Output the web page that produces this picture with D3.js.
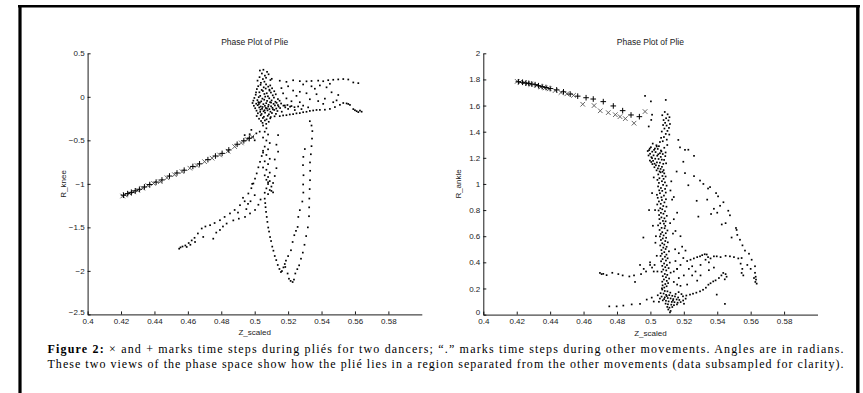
<!DOCTYPE html>
<html>
<head>
<meta charset="utf-8">
<script src="https://cdn.jsdelivr.net/npm/d3@7"></script>
<style>
  html, body { margin: 0; padding: 0; background: #fff; }
  svg { display: block; }
</style>
</head>
<body>
<svg id="fig" width="863" height="393"></svg>
<script>
// ---- tick values -------------------------------------------------------
const zTicks = [0.4, 0.42, 0.44, 0.46, 0.48, 0.5, 0.52, 0.54, 0.56, 0.58];
const kneeTicks = [0.5, 0, -0.5, -1, -1.5, -2, -2.5];
const ankleTicks = [0, 0.2, 0.4, 0.6, 0.8, 1, 1.2, 1.4, 1.6, 1.8, 2];

const panelTitle = "Phase Plot of Plie";
const xLabel = "Z_scaled";
const kneeLabel = "R_knee";
const ankleLabel = "R_ankle";

// ---- knee view: [Z_scaled, R_knee] -------------------------------------
// plié time steps, dancer 1 (x)
const kneePlieCross = [
  [0.4210,-1.140],[0.4225,-1.128],[0.4250,-1.110],[0.4275,-1.092],[0.4300,-1.075],
  [0.4330,-1.050],[0.4360,-1.020],[0.4395,-0.995],[0.4435,-0.975],[0.4475,-0.930],
  [0.4520,-0.895],[0.4565,-0.860],[0.4612,-0.820],[0.4655,-0.790],[0.4700,-0.745],
  [0.4745,-0.705],[0.4790,-0.668],[0.4840,-0.625],[0.4880,-0.572],[0.4920,-0.530],
  [0.4955,-0.490],[0.4985,-0.460]
];
// plié time steps, dancer 2 (+)
const kneePliePlus = [
  [0.4215,-1.130],[0.4240,-1.112],[0.4262,-1.098],[0.4285,-1.080],[0.4310,-1.062],
  [0.4340,-1.035],[0.4372,-1.008],[0.4410,-0.980],[0.4445,-0.955],[0.4490,-0.910],
  [0.4535,-0.875],[0.4578,-0.843],[0.4630,-0.800],[0.4670,-0.770],[0.4720,-0.722],
  [0.4765,-0.680],[0.4805,-0.650],[0.4845,-0.610],[0.4895,-0.545],[0.4935,-0.505],
  [0.4968,-0.475]
];
// other movements (.)
const kneeOther = [
  // upper spike
  [0.5031,0.302],[0.5052,0.311],[0.5074,0.287],[0.5043,0.268],[0.5061,0.243],[0.5083,0.259],
  [0.5029,0.226],[0.5049,0.204],[0.5068,0.219],[0.5094,0.193],[0.5017,0.186],[0.5058,0.174],[0.5102,0.207],
  // dense core
  [0.5037,0.161],[0.5068,0.143],[0.5093,0.131],[0.5021,0.122],[0.5054,0.109],[0.5081,0.117],[0.5104,0.098],
  [0.5013,0.089],[0.5042,0.079],[0.5066,0.095],[0.5089,0.071],[0.5117,0.064],[0.5028,0.052],[0.5049,0.067],
  [0.5072,0.041],[0.5097,0.049],[0.5126,0.029],[0.5006,0.024],[0.5033,0.011],[0.5058,0.033],[0.5079,0.006],
  [0.5108,0.017],[0.4998,-0.013],[0.5024,-0.004],[0.5046,-0.021],[0.5063,0.002],[0.5087,-0.017],[0.5115,-0.009],
  [0.5139,-0.026],[0.4992,-0.044],[0.5016,-0.038],[0.5039,-0.052],[0.5057,-0.033],[0.5074,-0.047],[0.5101,-0.041],
  [0.5124,-0.057],[0.5149,-0.045],[0.4987,-0.071],[0.5009,-0.079],[0.5031,-0.066],[0.5052,-0.084],[0.5069,-0.073],
  [0.5092,-0.062],[0.5113,-0.081],[0.5131,-0.069],[0.5158,-0.077],[0.4995,-0.103],[0.5018,-0.096],[0.5036,-0.111],
  [0.5061,-0.104],[0.5083,-0.092],[0.5098,-0.109],[0.5121,-0.099],[0.5143,-0.112],[0.5172,-0.101],[0.5196,-0.094],
  [0.5003,-0.131],[0.5027,-0.122],[0.5044,-0.138],[0.5066,-0.128],[0.5088,-0.141],[0.5106,-0.126],[0.5129,-0.135],
  [0.5152,-0.129],[0.5183,-0.121],[0.5212,-0.113],[0.5238,-0.119],[0.5011,-0.159],[0.5034,-0.148],[0.5053,-0.166],
  [0.5077,-0.156],[0.5094,-0.171],[0.5117,-0.151],[0.5136,-0.163],[0.5162,-0.171],[0.5019,-0.189],[0.5041,-0.197],
  [0.5062,-0.182],[0.5085,-0.201],[0.5103,-0.186],[0.5127,-0.196],[0.5012,-0.221],[0.5036,-0.212],[0.5055,-0.229],
  [0.5078,-0.218],[0.5096,-0.233],[0.5119,-0.224],[0.5026,-0.252],[0.5049,-0.243],[0.5071,-0.259],[0.5093,-0.247],
  [0.5038,-0.278],[0.5061,-0.271],[0.5084,-0.287],[0.5047,-0.299],[0.5069,-0.311],
  [0.5025,-0.083],[0.5047,-0.117],[0.5073,-0.134],[0.5109,-0.144],[0.5081,-0.112],[0.5022,-0.061],[0.5059,-0.154],
  [0.5033,-0.173],[0.5098,-0.066],[0.5139,-0.095],[0.5008,0.051],[0.5088,0.082],[0.5035,0.138],
  // band running right from the core
  [0.515,-0.222],[0.517,-0.214],[0.519,-0.211],[0.521,-0.203],[0.523,-0.199],[0.525,-0.190],[0.527,-0.187],
  [0.529,-0.177],[0.531,-0.172],[0.533,-0.162],[0.535,-0.157],[0.537,-0.151],[0.539,-0.150],
  [0.518,-0.100],[0.522,-0.106],[0.526,-0.111],[0.529,-0.101],[0.532,-0.121],[0.520,-0.139],[0.524,-0.152],[0.528,-0.141],
  [0.542,-0.148],[0.545,-0.139],[0.548,-0.118],[0.551,-0.092],[0.553,-0.071],[0.555,-0.076],[0.556,-0.082],
  [0.557,-0.093],[0.559,-0.141],[0.561,-0.165],[0.563,-0.158],[0.564,-0.171],[0.562,-0.176],[0.560,-0.154],
  // upper row
  [0.515,0.185],[0.519,0.172],[0.523,0.190],[0.527,0.180],[0.531,0.178],[0.534,0.182],[0.538,0.186],
  [0.541,0.179],[0.544,0.191],[0.547,0.196],[0.550,0.200],[0.553,0.204],[0.556,0.199],[0.559,0.165],[0.562,0.157],
  // scatter between rows
  [0.516,0.100],[0.520,0.121],[0.523,0.072],[0.527,0.058],[0.531,0.041],[0.536,0.093],[0.539,0.131],
  [0.543,0.109],[0.546,0.052],[0.550,0.021],[0.529,0.142],[0.525,0.011],[0.533,-0.028],[0.538,-0.049],
  [0.542,-0.021],[0.547,-0.062],[0.519,-0.018],[0.522,-0.051],[0.537,0.030],[0.541,-0.081],[0.549,-0.041],
  [0.517,0.040],[0.527,-0.062],[0.545,0.150],[0.534,0.121],
  // near the end of the plié curve
  [0.494,-0.440],[0.497,-0.430],[0.499,-0.460],[0.501,-0.420],[0.496,-0.480],[0.500,-0.500],[0.503,-0.400],[0.498,-0.380],
  // vertical column under the core
  [0.505,-0.330],[0.507,-0.362],[0.506,-0.401],[0.508,-0.433],[0.505,-0.468],[0.507,-0.502],[0.509,-0.531],
  [0.506,-0.572],[0.508,-0.603],[0.505,-0.641],[0.507,-0.668],[0.509,-0.712],[0.506,-0.741],[0.508,-0.773],
  [0.505,-0.812],[0.507,-0.838],[0.509,-0.871],[0.506,-0.902],[0.508,-0.921],[0.507,-0.953],[0.509,-0.968],
  [0.508,-1.002],[0.510,-1.031],[0.507,-1.052],[0.509,-1.071],[0.506,-1.102],[0.508,-1.118],[0.510,-1.081],
  [0.511,-1.098],[0.508,-0.982],
  [0.514,-0.440],[0.513,-0.550],[0.514,-0.630],[0.512,-0.720],[0.513,-0.820],[0.512,-0.910],[0.511,-0.990],
  // first V, left arm down to its tip
  [0.5060,-1.170],[0.5063,-1.221],[0.5065,-1.268],[0.5068,-1.322],[0.5072,-1.380],[0.5076,-1.437],
  [0.5081,-1.502],[0.5086,-1.548],[0.5092,-1.611],[0.5098,-1.657],[0.5105,-1.721],[0.5112,-1.768],
  [0.5120,-1.829],[0.5129,-1.876],[0.5138,-1.932],[0.5148,-1.978],[0.5157,-2.013],[0.5163,-2.002],
  // first V, right arm climbing back up
  [0.5172,-1.960],[0.5180,-1.921],[0.5187,-1.882],[0.5200,-1.830],[0.5217,-1.763],[0.5227,-1.668],
  [0.5237,-1.590],[0.5247,-1.540],[0.5257,-1.495],[0.5261,-1.380],[0.5270,-1.302],[0.5285,-1.203],
  [0.5291,-1.100],[0.5290,-1.007],[0.5292,-0.901],[0.5289,-0.785],[0.5291,-0.690],[0.5300,-0.600],
  // second, deeper V
  [0.5183,-1.955],[0.5197,-2.030],[0.5205,-2.090],[0.5215,-2.115],[0.5227,-2.128],[0.5235,-2.100],
  [0.5243,-2.030],[0.5255,-1.980],[0.5266,-1.936],[0.5277,-1.860],[0.5288,-1.790],[0.5298,-1.700],
  [0.5308,-1.600],[0.5318,-1.500],[0.5325,-1.372],[0.5326,-1.270],[0.5327,-1.169],[0.5329,-1.060],
  [0.5331,-0.958],[0.5332,-0.850],[0.5331,-0.754],[0.5336,-0.660],[0.5340,-0.567],[0.5343,-0.480],
  [0.5345,-0.394],[0.5340,-0.330],[0.5330,-0.280],
  // lower-left branch
  [0.4548,-1.745],[0.4556,-1.730],[0.4568,-1.720],[0.4585,-1.708],[0.4605,-1.680],[0.4623,-1.650],
  [0.4640,-1.620],[0.4660,-1.570],[0.4683,-1.513],[0.4705,-1.490],[0.4733,-1.475],[0.4760,-1.450],
  [0.4792,-1.418],[0.4820,-1.380],[0.4852,-1.340],[0.4880,-1.300],[0.4912,-1.245],[0.4940,-1.200],
  [0.4962,-1.111],[0.4980,-1.050],[0.4992,-0.996],[0.5002,-0.940],[0.5012,-0.880],[0.5022,-0.810],
  [0.5032,-0.747],[0.5042,-0.680],[0.5050,-0.620],
  [0.4593,-1.725],[0.4615,-1.700],[0.4643,-1.668],[0.4692,-1.610],[0.4752,-1.630],[0.4770,-1.560],
  [0.4792,-1.530],[0.4810,-1.490],[0.4832,-1.456],[0.4872,-1.420],[0.4905,-1.400],[0.4942,-1.380],
  [0.4972,-1.340],[0.5002,-1.300],[0.5022,-1.240],[0.5035,-1.180],[0.4950,-1.290],[0.4900,-1.330],
  [0.4975,-1.200],[0.5000,-1.130],[0.4985,-1.000],[0.4930,-1.160],[0.4960,-1.230]
];

// ---- ankle view: [Z_scaled, R_ankle] -----------------------------------
const anklePlieCross = [
  [0.4203,1.785],[0.4220,1.780],[0.4245,1.775],[0.4265,1.768],[0.4285,1.762],[0.4320,1.755],
  [0.4345,1.742],[0.4370,1.735],[0.4395,1.728],[0.4430,1.715],[0.4465,1.700],[0.4500,1.690],
  [0.4540,1.678],[0.4595,1.610],[0.4663,1.600],[0.4700,1.560],[0.4748,1.546],[0.4790,1.530],
  [0.4818,1.515],[0.4850,1.500],[0.4902,1.465],[0.4968,1.554]
];
const anklePliePlus = [
  [0.4210,1.782],[0.4235,1.778],[0.4255,1.772],[0.4272,1.770],[0.4290,1.765],[0.4310,1.760],
  [0.4330,1.752],[0.4352,1.745],[0.4375,1.738],[0.4400,1.730],[0.4439,1.720],[0.4480,1.705],
  [0.4520,1.688],[0.4565,1.672],[0.4615,1.660],[0.4658,1.650],[0.4718,1.630],[0.4778,1.597],
  [0.4834,1.561],[0.4884,1.528],[0.4934,1.515]
];
const ankleOther = [
  // isolated steps near the plié curve
  [0.4968,1.674],[0.5003,1.632],[0.5092,1.643],[0.4990,1.440],[0.5010,1.530],[0.5005,1.490],
  // top of the column
  [0.5086,1.551],[0.5103,1.533],[0.5071,1.526],[0.5114,1.511],[0.5094,1.503],[0.5079,1.489],
  [0.5108,1.486],[0.5088,1.468],[0.5117,1.459],[0.5076,1.451],[0.5097,1.447],[0.5111,1.429],
  [0.5084,1.424],[0.5102,1.406],[0.5068,1.401],[0.5092,1.383],[0.5113,1.378],[0.5081,1.359],
  [0.5064,1.353],[0.5098,1.339],[0.5074,1.327],[0.5057,1.321],
  // dense knot
  [0.5014,1.309],[0.5036,1.296],[0.5051,1.289],[0.5003,1.281],[0.5027,1.271],[0.5044,1.268],
  [0.5063,1.256],[0.4992,1.259],[0.5011,1.247],[0.5031,1.244],[0.5057,1.235],[0.5074,1.229],
  [0.4998,1.231],[0.5019,1.219],[0.5041,1.216],[0.5062,1.207],[0.5006,1.205],[0.5029,1.193],
  [0.5049,1.191],[0.5068,1.186],[0.4997,1.179],[0.5016,1.177],[0.5039,1.165],[0.5057,1.163],
  [0.5077,1.154],[0.5012,1.152],[0.5033,1.143],[0.5051,1.139],[0.5069,1.131],[0.5024,1.128],
  [0.5045,1.119],[0.5061,1.115],[0.5079,1.106],[0.5037,1.104],[0.5055,1.096],[0.5073,1.093],
  [0.5089,1.213],[0.5094,1.158],[0.5083,1.277],[0.5101,1.298],[0.5091,1.241],[0.4989,1.218],
  [0.4984,1.252],[0.5005,1.168],[0.5022,1.261],[0.5047,1.227],[0.5010,1.197],[0.5066,1.249],
  [0.5025,1.155],[0.5082,1.184],[0.5038,1.287],[0.4996,1.271],
  // long column
  [0.5061,1.089],[0.5083,1.081],[0.5047,1.073],[0.5072,1.061],[0.5091,1.057],[0.5054,1.044],
  [0.5079,1.039],[0.5042,1.031],[0.5069,1.021],[0.5087,1.012],[0.5051,1.008],[0.5076,0.993],
  [0.5097,0.987],[0.5046,0.981],[0.5063,0.969],[0.5088,0.962],[0.5053,0.951],[0.5071,0.947],
  [0.5092,0.934],[0.5057,0.929],[0.5039,0.917],[0.5081,0.911],[0.5066,0.898],[0.5044,0.894],
  [0.5093,0.883],[0.5069,0.877],[0.5051,0.866],[0.5084,0.859],[0.5062,0.848],[0.5041,0.843],
  [0.5077,0.831],[0.5096,0.826],[0.5059,0.814],[0.5071,0.806],[0.5049,0.797],[0.5087,0.791],
  [0.5063,0.779],[0.5078,0.772],[0.5052,0.762],[0.5098,0.756],[0.5066,0.744],[0.5084,0.737],
  [0.5054,0.731],[0.5075,0.717],[0.5091,0.714],[0.5059,0.699],[0.5081,0.696],[0.5046,0.683],
  [0.5089,0.679],[0.5067,0.664],[0.5085,0.661],[0.5055,0.648],[0.5102,0.644],[0.5071,0.631],
  [0.5092,0.623],[0.5062,0.617],[0.5079,0.606],[0.5057,0.598],[0.5094,0.588],[0.5074,0.583],
  [0.5063,0.571],[0.5089,0.563],[0.5104,0.553],[0.5071,0.546],[0.5083,0.536],[0.5059,0.529],
  [0.5097,0.519],[0.5077,0.513],[0.5091,0.502],[0.5066,0.494],[0.5111,0.484],[0.5083,0.478],
  [0.5069,0.467],[0.5096,0.459],[0.5061,0.449],[0.5087,0.443],[0.5103,0.431],[0.5073,0.425],
  [0.5093,0.414],[0.5064,0.408],[0.5116,0.398],[0.5082,0.391],[0.5099,0.379],[0.5071,0.373],
  [0.5089,0.363],[0.5109,0.356],[0.5077,0.345],[0.5095,0.338],[0.5067,0.328],[0.5121,0.321],
  [0.5086,0.311],[0.5101,0.304],[0.5074,0.294],[0.5093,0.286],[0.5112,0.276],[0.5081,0.269],
  [0.5098,0.258],[0.5071,0.252],[0.5106,0.241],[0.5089,0.234],[0.5073,0.224],[0.5097,0.217],
  [0.5083,0.207],[0.5069,0.201],
  [0.5020,1.050],[0.5125,1.020],[0.5010,0.930],[0.5130,0.880],[0.5028,0.800],[0.5140,0.730],
  [0.5015,0.680],[0.5135,0.620],[0.5030,0.550],[0.5148,0.500],[0.5038,0.450],[0.5150,0.410],
  [0.5025,0.380],[0.5160,0.350],[0.5042,0.330],[0.5033,0.600],[0.5120,0.950],[0.5118,0.700],
  // knot at the bottom
  [0.5071,0.192],[0.5086,0.181],[0.5102,0.178],[0.5119,0.168],[0.5061,0.164],[0.5079,0.161],
  [0.5094,0.151],[0.5113,0.149],[0.5131,0.144],[0.5147,0.139],[0.5067,0.138],[0.5086,0.132],
  [0.5104,0.127],[0.5121,0.124],[0.5137,0.119],[0.5157,0.116],[0.5173,0.112],[0.5074,0.109],
  [0.5093,0.106],[0.5109,0.101],[0.5128,0.097],[0.5144,0.095],[0.5163,0.091],[0.5181,0.096],
  [0.5091,0.084],[0.5105,0.079],[0.5125,0.076],[0.5141,0.072],[0.5159,0.078],[0.5101,0.059],
  [0.5114,0.053],[0.5131,0.058],[0.5107,0.039],[0.5121,0.028],[0.5117,0.017],[0.5196,0.108],
  [0.5211,0.122],[0.5201,0.083],[0.5151,0.158],[0.5169,0.172],[0.5186,0.157],[0.5051,0.098],
  [0.5057,0.123],[0.5044,0.148],[0.5098,0.142],[0.5135,0.108],[0.5082,0.119],[0.5166,0.131],
  // lower curve to the right
  [0.5195,0.140],[0.5215,0.146],[0.5237,0.153],[0.5255,0.160],[0.5275,0.168],[0.5297,0.178],
  [0.5315,0.190],[0.5332,0.206],[0.5347,0.229],[0.5360,0.240],[0.5376,0.254],[0.5390,0.262],
  [0.5410,0.280],[0.5425,0.300],[0.5436,0.319],[0.5450,0.310],[0.5456,0.290],[0.5445,0.270],
  // middle loop
  [0.5140,0.330],[0.5160,0.350],[0.5180,0.380],[0.5197,0.433],[0.5220,0.410],[0.5240,0.420],
  [0.5260,0.430],[0.5280,0.440],[0.5297,0.446],[0.5310,0.455],[0.5325,0.462],[0.5337,0.460],
  [0.5345,0.440],[0.5360,0.430],[0.5380,0.446],[0.5397,0.446],[0.5420,0.440],[0.5450,0.450],
  [0.5476,0.446],[0.5500,0.440],[0.5526,0.430],[0.5330,0.420],[0.5350,0.400],[0.5300,0.380],
  [0.5250,0.370],[0.5230,0.350],[0.5270,0.330],[0.5200,0.300],[0.5170,0.280],[0.5250,0.300],
  [0.5300,0.300],[0.5350,0.340],[0.5380,0.360],[0.5280,0.260],[0.5220,0.230],[0.5180,0.220],
  [0.5160,0.230],[0.5140,0.250],
  // long descent on the right
  [0.5167,1.337],[0.5177,1.280],[0.5207,1.261],[0.5227,1.262],[0.5261,1.215],[0.5197,1.170],
  [0.5157,1.095],[0.5207,1.083],[0.5261,1.060],[0.5297,1.026],[0.5317,1.000],[0.5357,0.976],
  [0.5345,0.965],[0.5393,0.930],[0.5405,0.905],[0.5417,0.833],[0.5437,0.860],[0.5466,0.795],
  [0.5476,0.760],[0.5427,0.690],[0.5512,0.663],[0.5516,0.648],[0.5486,0.590],[0.5536,0.573],
  [0.5551,0.530],[0.5566,0.490],[0.5590,0.466],[0.5606,0.420],[0.5626,0.370],[0.5626,0.320],
  [0.5630,0.290],[0.5632,0.268],[0.5636,0.237],[0.5628,0.250],[0.5620,0.280],[0.5546,0.433],
  [0.5546,0.319],[0.5556,0.300],[0.5550,0.350],[0.5540,0.390],[0.5227,0.990],[0.5277,0.871],
  [0.5287,0.750],[0.5363,0.770],[0.5400,0.780],[0.5340,0.880],[0.5380,0.810],[0.5450,0.700],
  [0.5520,0.610],[0.5580,0.380],[0.5600,0.350],
  // row at the left
  [0.4698,0.319],[0.4708,0.310],[0.4718,0.312],[0.4738,0.302],[0.4772,0.320],[0.4808,0.310],
  [0.4834,0.300],[0.4874,0.292],[0.4902,0.300],[0.4908,0.250],[0.4938,0.380],[0.4944,0.310],
  [0.4974,0.330],[0.4998,0.380],[0.4998,0.400],[0.5010,0.360],[0.4960,0.350],[0.5020,0.330],
  // bottom row
  [0.4754,0.063],[0.4798,0.063],[0.4838,0.069],[0.4888,0.078],[0.4938,0.082],[0.4978,0.115],
  [0.5008,0.130],[0.5020,0.100],
  // loose steps
  [0.4992,0.800],[0.4958,0.590],[0.5446,0.082],[0.5397,0.153],[0.5140,0.900],[0.5160,0.780],
  [0.5180,0.600],[0.5190,0.520],[0.5170,0.470],[0.5210,0.490],[0.5150,0.640]
];

const captionLead = "Figure 2:";
const captionRest1 = " \u00d7 and + marks time steps during pli\u00e9s for two dancers; \u201c.\u201d marks time steps during other movements. Angles are in radians.";
const captionLine2 = "These two views of the phase space show how the pli\u00e9 lies in a region separated from the other movements (data subsampled for clarity).";

// ---- drawing -----------------------------------------------------------
const svg = d3.select("#fig");
const sans = "'Liberation Sans', Arial, Helvetica, sans-serif";
const serif = "'Liberation Serif', 'Times New Roman', Times, serif";

// page frame
svg.append("rect").attr("width", 863).attr("height", 393).attr("fill", "#fff");
svg.append("line").attr("x1", 18).attr("x2", 860).attr("y1", 6.2).attr("y2", 6.2)
  .attr("stroke", "#000").attr("stroke-width", 2.6);
svg.append("line").attr("x1", 20).attr("x2", 20).attr("y1", 5).attr("y2", 393)
  .attr("stroke", "#000").attr("stroke-width", 3.2);
svg.append("line").attr("x1", 857.8).attr("x2", 857.8).attr("y1", 5).attr("y2", 393)
  .attr("stroke", "#000").attr("stroke-width", 3.4);

const fmt = d => String(+d.toFixed(2)).replace("-", "\u2212");

function drawPanel(opt) {
  const x = d3.scaleLinear().domain([0.4, 0.6]).range([opt.left, opt.left + 334.2]);
  const y = d3.scaleLinear().domain(opt.yDomain).range([opt.bottom, opt.top]);
  const g = svg.append("g");

  const ax = g.append("g").attr("transform", `translate(0,${opt.bottom})`)
    .call(d3.axisBottom(x).tickValues(zTicks).tickFormat(fmt)
      .tickSizeInner(-3).tickSizeOuter(0).tickPadding(3.5));
  const ay = g.append("g").attr("transform", `translate(${opt.left},0)`)
    .call(d3.axisLeft(y).tickValues(opt.yTicks).tickFormat(fmt)
      .tickSizeInner(-3).tickSizeOuter(0).tickPadding(3));
  [ax, ay].forEach(a => {
    a.select(".domain").attr("stroke", "#000").attr("stroke-width", 0.9);
    a.selectAll(".tick line").attr("stroke", "#000").attr("stroke-width", 0.9);
    a.selectAll(".tick text").attr("fill", "#222")
      .style("font-family", sans).style("font-size", "8px");
  });
  // lowest y label sits just above the first x label at the corner
  ay.selectAll(".tick text").filter(d => d === opt.yDomain[0]).attr("dy", "-0.05em");

  g.append("text").attr("x", (x.range()[0] + x.range()[1]) / 2).attr("y", opt.top - 8)
    .attr("text-anchor", "middle").attr("fill", "#222")
    .style("font-family", sans).style("font-size", "8.5px").text(panelTitle);
  g.append("text").attr("x", (x.range()[0] + x.range()[1]) / 2).attr("y", opt.bottom + 21)
    .attr("text-anchor", "middle").attr("fill", "#222")
    .style("font-family", sans).style("font-size", "8px").text(xLabel);
  g.append("text")
    .attr("transform", `translate(${opt.left - 22},${(opt.top + opt.bottom) / 2}) rotate(-90)`)
    .attr("text-anchor", "middle").attr("fill", "#222")
    .style("font-family", sans).style("font-size", "8px").text(opt.yLabel);

  g.append("g").selectAll("rect").data(opt.other).join("rect")
    .attr("x", d => x(d[0]) - 0.85).attr("y", d => y(d[1]) - 0.85)
    .attr("width", 1.7).attr("height", 1.7).attr("fill", "#000");

  g.append("g").selectAll("path").data(opt.cross).join("path")
    .attr("transform", d => `translate(${x(d[0])},${y(d[1])})`)
    .attr("d", "M-2.3,-2.3L2.3,2.3M-2.3,2.3L2.3,-2.3")
    .attr("stroke", "#555").attr("stroke-width", 0.9).attr("fill", "none");
  g.append("g").selectAll("path").data(opt.plus).join("path")
    .attr("transform", d => `translate(${x(d[0])},${y(d[1])})`)
    .attr("d", "M-2.8,0H2.8M0,-2.8V2.8")
    .attr("stroke", "#000").attr("stroke-width", 1).attr("fill", "none");
}

drawPanel({ left: 87.6, top: 53.3, bottom: 314.4, yDomain: [-2.5, 0.5], yTicks: kneeTicks,
  yLabel: kneeLabel, other: kneeOther, cross: kneePlieCross, plus: kneePliePlus });
drawPanel({ left: 483.3, top: 53.3, bottom: 314.6, yDomain: [0, 2], yTicks: ankleTicks,
  yLabel: ankleLabel, other: ankleOther, cross: anklePlieCross, plus: anklePliePlus });

// caption, justified to the text block width
const cap = svg.append("g").style("font-family", serif).style("font-size", "12px").attr("fill", "#000");
const l1 = cap.append("text").attr("x", 47.5).attr("y", 353)
  .attr("textLength", 796).attr("lengthAdjust", "spacing");
l1.append("tspan").style("font-weight", "bold").text(captionLead);
l1.append("tspan").text(captionRest1);
cap.append("text").attr("x", 47.5).attr("y", 367.5)
  .attr("textLength", 796).attr("lengthAdjust", "spacing").text(captionLine2);
</script>
</body>
</html>
